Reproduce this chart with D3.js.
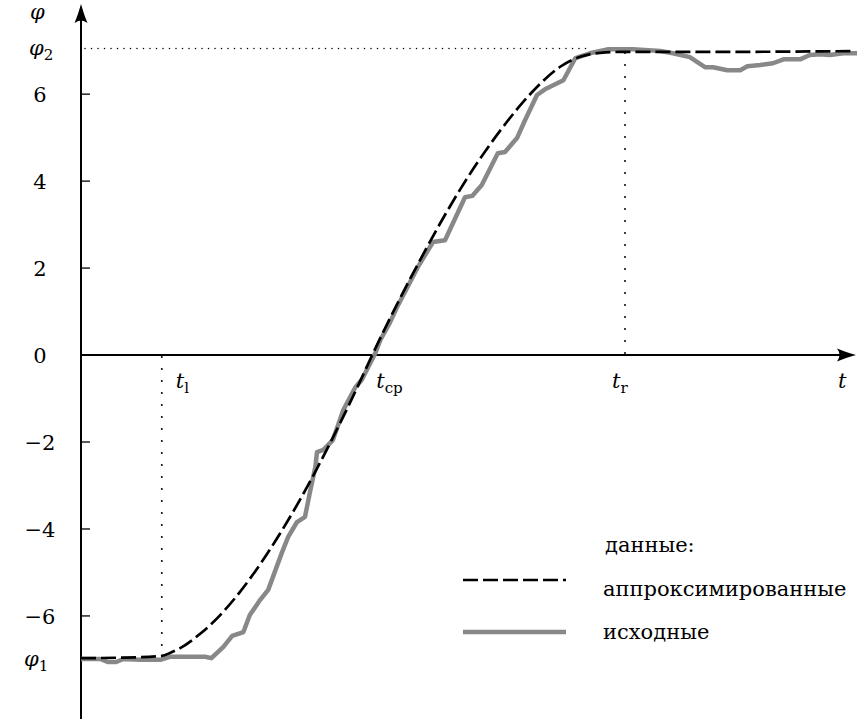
<!DOCTYPE html>
<html><head><meta charset="utf-8">
<script src="https://cdn.jsdelivr.net/npm/d3@7"></script>
<style>
html,body{margin:0;padding:0;background:#fff;}
</style></head>
<body><svg id="c" width="857" height="719"></svg>
<script>
// ---- data ----
const yTicks = [-6, -4, -2, 0, 2, 4, 6];
const tMarks = { tl: 1.01, tcp: 3.64, tr: 6.8 };
const phi1 = -6.97, phi2 = 7.05;
// original (measured) data
const rawT = [0,0.24,0.34,0.44,0.53,0.74,0.99,1.11,1.55,1.63,1.78,1.89,2.03,2.11,2.24,2.34,2.51,2.59,2.70,2.80,2.86,2.93,2.95,3.03,3.15,3.28,3.43,3.51,3.68,3.74,3.86,3.95,4.08,4.21,4.40,4.55,4.80,4.89,5.01,5.21,5.30,5.45,5.55,5.70,5.80,6.03,6.18,6.36,6.58,6.90,7.24,7.40,7.61,7.80,7.90,8.08,8.24,8.33,8.49,8.65,8.78,8.99,9.11,9.24,9.36,9.53,9.70];
const rawPhi = [-6.99,-6.99,-7.06,-7.06,-6.99,-7.01,-7.01,-6.94,-6.94,-6.97,-6.71,-6.46,-6.37,-5.98,-5.63,-5.40,-4.55,-4.18,-3.84,-3.72,-3.17,-2.57,-2.23,-2.18,-1.95,-1.26,-0.74,-0.57,0.05,0.34,0.74,1.10,1.56,2.02,2.60,2.64,3.63,3.66,3.91,4.64,4.67,4.99,5.40,5.98,6.11,6.32,6.83,6.94,7.03,7.03,6.99,6.94,6.85,6.62,6.62,6.55,6.55,6.64,6.67,6.71,6.80,6.80,6.90,6.92,6.90,6.94,6.94];
// approximated data
const fitT = [0,0.49,1.01,1.125,1.24,1.49,1.74,1.99,2.24,2.49,2.74,2.99,3.24,3.49,3.64,3.99,4.24,4.49,4.74,4.99,5.24,5.49,5.74,5.99,6.24,6.49,6.74,7.74,9.64];
const fitPhi = [-6.97,-6.96,-6.92,-6.84,-6.74,-6.41,-5.98,-5.44,-4.81,-4.10,-3.32,-2.47,-1.56,-0.60,0.0,1.31,2.19,3.03,3.81,4.52,5.16,5.74,6.24,6.63,6.86,6.95,6.97,6.97,6.99];
const legendTitle = "данные:";
const legendLabels = ["аппроксимированные", "исходные"];

// ---- drawing ----
const FONT = "'DejaVu Serif', serif";
const svg = d3.select("#c");
const x = d3.scaleLinear().domain([0, 9.65]).range([81, 853]);
const y = d3.scaleLinear().domain([-8.37, 8.05]).range([719, 5]);
const FS = 21, LFS = 21;

// dotted guide lines
const dotV = "0,12", dotH = "0,6.5";
svg.append("line").attr("x1", x(tMarks.tl)).attr("x2", x(tMarks.tl))
  .attr("y1", y(0)+2).attr("y2", y(phi1)-2)
  .attr("stroke","#000").attr("stroke-width",2).attr("stroke-linecap","round").attr("stroke-dasharray",dotV);
svg.append("line").attr("x1", x(tMarks.tr)).attr("x2", x(tMarks.tr))
  .attr("y1", y(0)-2).attr("y2", y(6.95))
  .attr("stroke","#000").attr("stroke-width",2).attr("stroke-linecap","round").attr("stroke-dasharray",dotV);
svg.append("line").attr("x1", x(0)+4).attr("x2", x(6.35))
  .attr("y1", y(phi2)).attr("y2", y(phi2))
  .attr("stroke","#000").attr("stroke-width",1.5).attr("stroke-linecap","round").attr("stroke-dasharray",dotH);

// axes
svg.append("line").attr("x1", x(0)).attr("x2", x(0)).attr("y1", 719).attr("y2", 12)
  .attr("stroke","#000").attr("stroke-width",2);
svg.append("line").attr("x1", x(0)).attr("x2", 848).attr("y1", y(0)).attr("y2", y(0))
  .attr("stroke","#000").attr("stroke-width",2);
const arrow = "M0,0 C-2,7 -4,13 -6.5,19 Q0,14 6.5,19 C4,13 2,7 0,0 Z";
svg.append("path").attr("d", arrow).attr("transform", `translate(${x(0)},4)`).attr("fill","#000");
svg.append("path").attr("d", arrow).attr("transform", `translate(856,${y(0)}) rotate(90)`).attr("fill","#000");

// y ticks
const yAxisG = svg.append("g");
yTicks.forEach(v => {
  yAxisG.append("line").attr("x1", x(0)).attr("x2", x(0)+9).attr("y1", y(v)).attr("y2", y(v))
    .attr("stroke","#000").attr("stroke-width",1.3);
  yAxisG.append("text").attr("x", 40).attr("y", y(v)).attr("dy","0.36em")
    .attr("text-anchor","middle").attr("font-size",FS).attr("font-family",FONT)
    .text(v < 0 ? "\u2212" + Math.abs(v) : String(v));
});

function sublabel(px, py, main, sub) {
  const t = svg.append("text").attr("x", px).attr("y", py).attr("font-size", FS).attr("font-family",FONT);
  t.append("tspan").attr("font-style","italic").text(main);
  if (sub) t.append("tspan").attr("font-size", FS*0.72).attr("dy", 5).text(sub);
  return t;
}
sublabel(30, 19, "\u03c6");
sublabel(29, 55, "\u03c6", "2");
sublabel(24, 666, "\u03c6", "1");
sublabel(x(tMarks.tl)+14, 388, "t", "l");
sublabel(x(tMarks.tcp)+4, 388, "t", "ср");
sublabel(x(tMarks.tr)-13, 388, "t", "r");
sublabel(838, 388, "t");

// curves
const rawData = rawT.map((t,i)=>[t, rawPhi[i]]);
const fitData = fitT.map((t,i)=>[t, fitPhi[i]]);
svg.append("path").datum(rawData)
  .attr("d", d3.line().x(d=>x(d[0])).y(d=>y(d[1])).curve(d3.curveLinear))
  .attr("fill","none").attr("stroke","#888").attr("stroke-width",4.5).attr("stroke-linejoin","round");
svg.append("path").datum(fitData)
  .attr("d", d3.line().x(d=>x(d[0])).y(d=>y(d[1])).curve(d3.curveMonotoneX))
  .attr("fill","none").attr("stroke","#000").attr("stroke-width",2.7).attr("stroke-dasharray","15,5");

// legend
const LX = 603;
svg.append("text").attr("x", LX+2).attr("y", 552).attr("font-size", LFS).attr("font-family",FONT).text(legendTitle);
svg.append("line").attr("x1",463).attr("x2",566).attr("y1",580).attr("y2",580)
  .attr("stroke","#000").attr("stroke-width",2.7).attr("stroke-dasharray","15,5");
svg.append("text").attr("x", LX).attr("y", 596).attr("font-size", LFS).attr("font-family",FONT).text(legendLabels[0]);
svg.append("line").attr("x1",463).attr("x2",566).attr("y1",632).attr("y2",632)
  .attr("stroke","#888").attr("stroke-width",4.5);
svg.append("text").attr("x", LX).attr("y", 639).attr("font-size", LFS).attr("font-family",FONT).text(legendLabels[1]);
</script></body></html>
